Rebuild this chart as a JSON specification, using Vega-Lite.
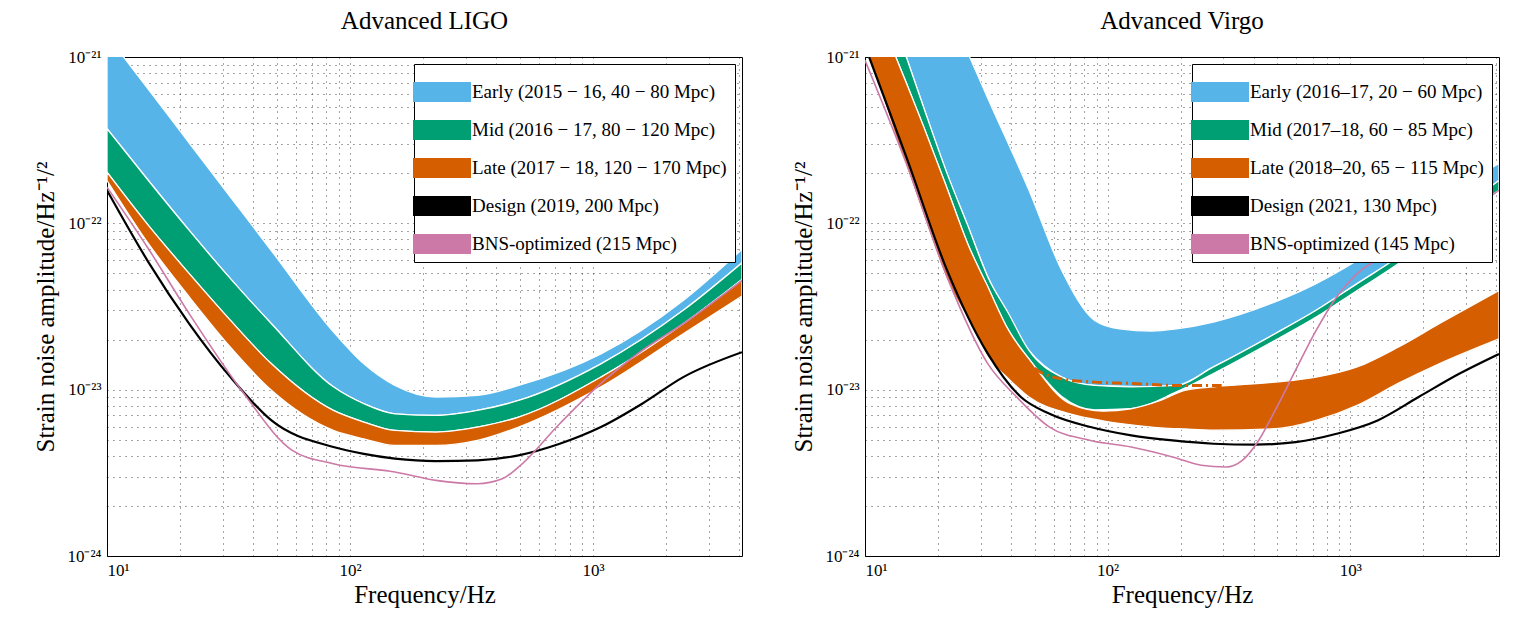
{
"$schema":"https://vega.github.io/schema/vega-lite/v6.json",
"padding":{"left":33,"top":8,"right":5,"bottom":5},
"background":"white",
"config":{"font":"Liberation Serif","view":{"stroke":"black","strokeWidth":1},
"axis":{"labelFont":"Liberation Serif","titleFont":"Liberation Serif","labelFontSize":17,"titleFontSize":25,"titleFontWeight":"normal","labelColor":"black","titleColor":"black","grid":true,"gridColor":"#000","gridDash":[1,5],"gridOpacity":0.7,"domain":false,"ticks":false,"labelPadding":6},
"title":{"font":"Liberation Serif","fontSize":25,"fontWeight":"normal","offset":14},
"legend":{"orient":"top-right","offset":7,"labelFont":"Liberation Serif","labelFontSize":19,"labelColor":"black","fillColor":"white","strokeColor":"black","padding":8,"rowPadding":8,"symbolType":"M-1.45,-0.5H1.45V0.5H-1.45Z","symbolSize":1600,"symbolStrokeWidth":0,"symbolOpacity":1,"labelOffset":10,"labelLimit":500}},
"datasets":{
"Lband":[
{"s":"Early (2015 − 16, 40 − 80 Mpc)","f":10,"hi":1.35e-21,"lo":3.71e-22},
{"s":"Early (2015 − 16, 40 − 80 Mpc)","f":14.8,"hi":6.39e-22,"lo":1.81e-22},
{"s":"Early (2015 − 16, 40 − 80 Mpc)","f":21.8,"hi":3.04e-22,"lo":9.07e-23},
{"s":"Early (2015 − 16, 40 − 80 Mpc)","f":32.2,"hi":1.44e-22,"lo":4.65e-23},
{"s":"Early (2015 − 16, 40 − 80 Mpc)","f":47.5,"hi":6.84e-23,"lo":2.49e-23},
{"s":"Early (2015 − 16, 40 − 80 Mpc)","f":85.4,"hi":2.23e-23,"lo":1.04e-23},
{"s":"Early (2015 − 16, 40 − 80 Mpc)","f":114,"hi":1.43e-23,"lo":8.23e-24},
{"s":"Early (2015 − 16, 40 − 80 Mpc)","f":153,"hi":1.06e-23,"lo":7.16e-24},
{"s":"Early (2015 − 16, 40 − 80 Mpc)","f":226,"hi":9.03e-24,"lo":7.0e-24},
{"s":"Early (2015 − 16, 40 − 80 Mpc)","f":334,"hi":9.24e-24,"lo":7.5e-24},
{"s":"Early (2015 − 16, 40 − 80 Mpc)","f":494,"hi":1.06e-23,"lo":8.61e-24},
{"s":"Early (2015 − 16, 40 − 80 Mpc)","f":1077,"hi":1.64e-23,"lo":1.43e-23},
{"s":"Early (2015 − 16, 40 − 80 Mpc)","f":2350,"hi":3.44e-23,"lo":3.0e-23},
{"s":"Early (2015 − 16, 40 − 80 Mpc)","f":4100,"hi":6.97e-23,"lo":5.79e-23},
{"s":"Mid (2016 − 17, 80 − 120 Mpc)","f":10,"hi":3.71e-22,"lo":2.03e-22},
{"s":"Mid (2016 − 17, 80 − 120 Mpc)","f":14.8,"hi":1.81e-22,"lo":9.72e-23},
{"s":"Mid (2016 − 17, 80 − 120 Mpc)","f":21.8,"hi":9.07e-23,"lo":4.98e-23},
{"s":"Mid (2016 − 17, 80 − 120 Mpc)","f":32.2,"hi":4.65e-23,"lo":2.61e-23},
{"s":"Mid (2016 − 17, 80 − 120 Mpc)","f":47.5,"hi":2.49e-23,"lo":1.43e-23},
{"s":"Mid (2016 − 17, 80 − 120 Mpc)","f":85.4,"hi":1.04e-23,"lo":7.5e-24},
{"s":"Mid (2016 − 17, 80 − 120 Mpc)","f":114,"hi":8.23e-24,"lo":6.39e-24},
{"s":"Mid (2016 − 17, 80 − 120 Mpc)","f":153,"hi":7.16e-24,"lo":5.69e-24},
{"s":"Mid (2016 − 17, 80 − 120 Mpc)","f":226,"hi":7.0e-24,"lo":5.56e-24},
{"s":"Mid (2016 − 17, 80 − 120 Mpc)","f":334,"hi":7.5e-24,"lo":5.96e-24},
{"s":"Mid (2016 − 17, 80 − 120 Mpc)","f":494,"hi":8.61e-24,"lo":6.84e-24},
{"s":"Mid (2016 − 17, 80 − 120 Mpc)","f":1077,"hi":1.43e-23,"lo":1.19e-23},
{"s":"Mid (2016 − 17, 80 − 120 Mpc)","f":2350,"hi":3.0e-23,"lo":2.49e-23},
{"s":"Mid (2016 − 17, 80 − 120 Mpc)","f":4100,"hi":5.79e-23,"lo":4.6e-23},
{"s":"Late (2017 − 18, 120 − 170 Mpc)","f":10,"hi":2.03e-22,"lo":1.81e-22},
{"s":"Late (2017 − 18, 120 − 170 Mpc)","f":14.8,"hi":9.72e-23,"lo":7.55e-23},
{"s":"Late (2017 − 18, 120 − 170 Mpc)","f":21.8,"hi":4.98e-23,"lo":3.61e-23},
{"s":"Late (2017 − 18, 120 − 170 Mpc)","f":32.2,"hi":2.61e-23,"lo":1.8e-23},
{"s":"Late (2017 − 18, 120 − 170 Mpc)","f":47.5,"hi":1.43e-23,"lo":9.91e-24},
{"s":"Late (2017 − 18, 120 − 170 Mpc)","f":85.4,"hi":7.5e-24,"lo":5.69e-24},
{"s":"Late (2017 − 18, 120 − 170 Mpc)","f":114,"hi":6.39e-24,"lo":5.06e-24},
{"s":"Late (2017 − 18, 120 − 170 Mpc)","f":153,"hi":5.69e-24,"lo":4.62e-24},
{"s":"Late (2017 − 18, 120 − 170 Mpc)","f":226,"hi":5.56e-24,"lo":4.62e-24},
{"s":"Late (2017 − 18, 120 − 170 Mpc)","f":334,"hi":5.96e-24,"lo":4.95e-24},
{"s":"Late (2017 − 18, 120 − 170 Mpc)","f":494,"hi":6.84e-24,"lo":5.96e-24},
{"s":"Late (2017 − 18, 120 − 170 Mpc)","f":1077,"hi":1.19e-23,"lo":1.04e-23},
{"s":"Late (2017 − 18, 120 − 170 Mpc)","f":2350,"hi":2.49e-23,"lo":2.17e-23},
{"s":"Late (2017 − 18, 120 − 170 Mpc)","f":4100,"hi":4.6e-23,"lo":3.66e-23}
],
"Lline":[
{"s":"Design (2019, 200 Mpc)","f":10,"v":1.58e-22},
{"s":"Design (2019, 200 Mpc)","f":14.8,"v":5.85e-23},
{"s":"Design (2019, 200 Mpc)","f":21.8,"v":2.49e-23},
{"s":"Design (2019, 200 Mpc)","f":32.2,"v":1.19e-23},
{"s":"Design (2019, 200 Mpc)","f":47.5,"v":6.53e-24},
{"s":"Design (2019, 200 Mpc)","f":85.4,"v":4.52e-24},
{"s":"Design (2019, 200 Mpc)","f":114,"v":4.11e-24},
{"s":"Design (2019, 200 Mpc)","f":153,"v":3.85e-24},
{"s":"Design (2019, 200 Mpc)","f":226,"v":3.72e-24},
{"s":"Design (2019, 200 Mpc)","f":334,"v":3.76e-24},
{"s":"Design (2019, 200 Mpc)","f":494,"v":4.03e-24},
{"s":"Design (2019, 200 Mpc)","f":729,"v":4.73e-24},
{"s":"Design (2019, 200 Mpc)","f":1077,"v":5.96e-24},
{"s":"Design (2019, 200 Mpc)","f":1592,"v":8.23e-24},
{"s":"Design (2019, 200 Mpc)","f":2350,"v":1.19e-23},
{"s":"Design (2019, 200 Mpc)","f":4100,"v":1.68e-23},
{"s":"BNS-optimized (215 Mpc)","f":10,"v":1.65e-22},
{"s":"BNS-optimized (215 Mpc)","f":14.8,"v":7.03e-23},
{"s":"BNS-optimized (215 Mpc)","f":21.8,"v":2.86e-23},
{"s":"BNS-optimized (215 Mpc)","f":36.2,"v":9.68e-24},
{"s":"BNS-optimized (215 Mpc)","f":57.8,"v":4.32e-24},
{"s":"BNS-optimized (215 Mpc)","f":85.4,"v":3.59e-24},
{"s":"BNS-optimized (215 Mpc)","f":153,"v":3.2e-24},
{"s":"BNS-optimized (215 Mpc)","f":226,"v":2.85e-24},
{"s":"BNS-optimized (215 Mpc)","f":334,"v":2.72e-24},
{"s":"BNS-optimized (215 Mpc)","f":423,"v":2.91e-24},
{"s":"BNS-optimized (215 Mpc)","f":494,"v":3.43e-24},
{"s":"BNS-optimized (215 Mpc)","f":729,"v":6.24e-24},
{"s":"BNS-optimized (215 Mpc)","f":1077,"v":1.09e-23},
{"s":"BNS-optimized (215 Mpc)","f":1592,"v":1.72e-23},
{"s":"BNS-optimized (215 Mpc)","f":2350,"v":2.49e-23},
{"s":"BNS-optimized (215 Mpc)","f":4100,"v":4.54e-23}
],
"Rband":[
{"s":"Early (2016–17, 20 − 60 Mpc)","f":14.8,"hi":7.21e-21,"lo":1e-21},
{"s":"Early (2016–17, 20 − 60 Mpc)","f":17.9,"hi":3.81e-21,"lo":4.46e-22},
{"s":"Early (2016–17, 20 − 60 Mpc)","f":21.8,"hi":2.02e-21,"lo":1.99e-22},
{"s":"Early (2016–17, 20 − 60 Mpc)","f":27.0,"hi":1e-21,"lo":9.07e-23},
{"s":"Early (2016–17, 20 − 60 Mpc)","f":32.1,"hi":5.64e-22,"lo":4.75e-23},
{"s":"Early (2016–17, 20 − 60 Mpc)","f":47.4,"hi":1.58e-22,"lo":1.72e-23},
{"s":"Early (2016–17, 20 − 60 Mpc)","f":64.7,"hi":5.21e-23,"lo":1.19e-23},
{"s":"Early (2016–17, 20 − 60 Mpc)","f":88.4,"hi":2.61e-23,"lo":1.06e-23},
{"s":"Early (2016–17, 20 − 60 Mpc)","f":112,"hi":2.32e-23,"lo":1.05e-23},
{"s":"Early (2016–17, 20 − 60 Mpc)","f":152,"hi":2.25e-23,"lo":1.04e-23},
{"s":"Early (2016–17, 20 − 60 Mpc)","f":192,"hi":2.32e-23,"lo":1.06e-23},
{"s":"Early (2016–17, 20 − 60 Mpc)","f":273,"hi":2.55e-23,"lo":1.37e-23},
{"s":"Early (2016–17, 20 − 60 Mpc)","f":490,"hi":3.37e-23,"lo":2.17e-23},
{"s":"Early (2016–17, 20 − 60 Mpc)","f":723,"hi":4.34e-23,"lo":3.0e-23},
{"s":"Early (2016–17, 20 − 60 Mpc)","f":1067,"hi":5.98e-23,"lo":4.34e-23},
{"s":"Early (2016–17, 20 − 60 Mpc)","f":1574,"hi":8.67e-23,"lo":6.27e-23},
{"s":"Early (2016–17, 20 − 60 Mpc)","f":2323,"hi":1.37e-22,"lo":9.72e-23},
{"s":"Early (2016–17, 20 − 60 Mpc)","f":4100,"hi":2.29e-22,"lo":1.81e-22},
{"s":"Mid (2017–18, 60 − 85 Mpc)","f":13.4,"hi":1.5e-21,"lo":1e-21},
{"s":"Mid (2017–18, 60 − 85 Mpc)","f":14.8,"hi":1e-21,"lo":7.01e-22},
{"s":"Mid (2017–18, 60 − 85 Mpc)","f":17.9,"hi":4.46e-22,"lo":3.46e-22},
{"s":"Mid (2017–18, 60 − 85 Mpc)","f":21.8,"hi":1.99e-22,"lo":1.62e-22},
{"s":"Mid (2017–18, 60 − 85 Mpc)","f":26.5,"hi":9.72e-23,"lo":7.55e-23},
{"s":"Mid (2017–18, 60 − 85 Mpc)","f":32.1,"hi":4.75e-23,"lo":4.14e-23},
{"s":"Mid (2017–18, 60 − 85 Mpc)","f":39.1,"hi":2.86e-23,"lo":2.27e-23},
{"s":"Mid (2017–18, 60 − 85 Mpc)","f":47.4,"hi":1.72e-23,"lo":1.53e-23},
{"s":"Mid (2017–18, 60 − 85 Mpc)","f":64.7,"hi":1.19e-23,"lo":9.1e-24},
{"s":"Mid (2017–18, 60 − 85 Mpc)","f":88.4,"hi":1.06e-23,"lo":7.57e-24},
{"s":"Mid (2017–18, 60 − 85 Mpc)","f":125,"hi":1.04e-23,"lo":7.68e-24},
{"s":"Mid (2017–18, 60 − 85 Mpc)","f":192,"hi":1.06e-23,"lo":9.69e-24},
{"s":"Mid (2017–18, 60 − 85 Mpc)","f":273,"hi":1.37e-23,"lo":1.25e-23},
{"s":"Mid (2017–18, 60 − 85 Mpc)","f":490,"hi":2.17e-23,"lo":1.98e-23},
{"s":"Mid (2017–18, 60 − 85 Mpc)","f":723,"hi":3.0e-23,"lo":2.73e-23},
{"s":"Mid (2017–18, 60 − 85 Mpc)","f":1067,"hi":4.34e-23,"lo":3.95e-23},
{"s":"Mid (2017–18, 60 − 85 Mpc)","f":1574,"hi":6.27e-23,"lo":5.71e-23},
{"s":"Mid (2017–18, 60 − 85 Mpc)","f":2323,"hi":9.72e-23,"lo":8.87e-23},
{"s":"Mid (2017–18, 60 − 85 Mpc)","f":4100,"hi":1.81e-22,"lo":1.58e-22},
{"s":"Late (2018–20, 65 − 115 Mpc)","f":10.4,"hi":2.52e-21,"lo":1e-21},
{"s":"Late (2018–20, 65 − 115 Mpc)","f":13.4,"hi":1e-21,"lo":3.33e-22},
{"s":"Late (2018–20, 65 − 115 Mpc)","f":17.9,"hi":3.46e-22,"lo":9.95e-23},
{"s":"Late (2018–20, 65 − 115 Mpc)","f":21.8,"hi":1.62e-22,"lo":4.54e-23},
{"s":"Late (2018–20, 65 − 115 Mpc)","f":26.5,"hi":7.55e-23,"lo":2.67e-23},
{"s":"Late (2018–20, 65 − 115 Mpc)","f":32.1,"hi":4.14e-23,"lo":1.57e-23},
{"s":"Late (2018–20, 65 − 115 Mpc)","f":39.1,"hi":2.27e-23,"lo":1.16e-23},
{"s":"Late (2018–20, 65 − 115 Mpc)","f":47.4,"hi":1.53e-23,"lo":9.03e-24},
{"s":"Late (2018–20, 65 − 115 Mpc)","f":70.0,"hi":8.23e-24,"lo":7.16e-24},
{"s":"Late (2018–20, 65 − 115 Mpc)","f":95.5,"hi":7.43e-24,"lo":6.5e-24},
{"s":"Late (2018–20, 65 − 115 Mpc)","f":125,"hi":7.68e-24,"lo":6.15e-24},
{"s":"Late (2018–20, 65 − 115 Mpc)","f":165,"hi":8.61e-24,"lo":5.9e-24},
{"s":"Late (2018–20, 65 − 115 Mpc)","f":208,"hi":9.91e-24,"lo":5.8e-24},
{"s":"Late (2018–20, 65 − 115 Mpc)","f":273,"hi":1.04e-23,"lo":5.71e-24},
{"s":"Late (2018–20, 65 − 115 Mpc)","f":490,"hi":1.11e-23,"lo":5.82e-24},
{"s":"Late (2018–20, 65 − 115 Mpc)","f":723,"hi":1.19e-23,"lo":6.53e-24},
{"s":"Late (2018–20, 65 − 115 Mpc)","f":1067,"hi":1.37e-23,"lo":8.04e-24},
{"s":"Late (2018–20, 65 − 115 Mpc)","f":1574,"hi":1.8e-23,"lo":1.09e-23},
{"s":"Late (2018–20, 65 − 115 Mpc)","f":2323,"hi":2.49e-23,"lo":1.43e-23},
{"s":"Late (2018–20, 65 − 115 Mpc)","f":4100,"hi":3.95e-23,"lo":2.02e-23}
],
"Rline":[
{"s":"Design (2021, 130 Mpc)","f":10.4,"v":1e-21},
{"s":"Design (2021, 130 Mpc)","f":14.8,"v":2.51e-22},
{"s":"Design (2021, 130 Mpc)","f":21.8,"v":5.21e-23},
{"s":"Design (2021, 130 Mpc)","f":32.1,"v":1.64e-23},
{"s":"Design (2021, 130 Mpc)","f":43.9,"v":9.03e-24},
{"s":"Design (2021, 130 Mpc)","f":57.6,"v":7.16e-24},
{"s":"Design (2021, 130 Mpc)","f":85.0,"v":5.96e-24},
{"s":"Design (2021, 130 Mpc)","f":125,"v":5.31e-24},
{"s":"Design (2021, 130 Mpc)","f":185,"v":4.95e-24},
{"s":"Design (2021, 130 Mpc)","f":273,"v":4.73e-24},
{"s":"Design (2021, 130 Mpc)","f":403,"v":4.67e-24},
{"s":"Design (2021, 130 Mpc)","f":595,"v":4.84e-24},
{"s":"Design (2021, 130 Mpc)","f":878,"v":5.43e-24},
{"s":"Design (2021, 130 Mpc)","f":1296,"v":6.53e-24},
{"s":"Design (2021, 130 Mpc)","f":1912,"v":9.03e-24},
{"s":"Design (2021, 130 Mpc)","f":2821,"v":1.25e-23},
{"s":"Design (2021, 130 Mpc)","f":4100,"v":1.64e-23},
{"s":"BNS-optimized (145 Mpc)","f":10,"v":9.55e-22},
{"s":"BNS-optimized (145 Mpc)","f":14.8,"v":2.29e-22},
{"s":"BNS-optimized (145 Mpc)","f":21.8,"v":4.75e-23},
{"s":"BNS-optimized (145 Mpc)","f":32.1,"v":1.43e-23},
{"s":"BNS-optimized (145 Mpc)","f":42.2,"v":9.03e-24},
{"s":"BNS-optimized (145 Mpc)","f":57.6,"v":5.96e-24},
{"s":"BNS-optimized (145 Mpc)","f":85.0,"v":4.95e-24},
{"s":"BNS-optimized (145 Mpc)","f":125,"v":4.52e-24},
{"s":"BNS-optimized (145 Mpc)","f":185,"v":3.94e-24},
{"s":"BNS-optimized (145 Mpc)","f":243,"v":3.51e-24},
{"s":"BNS-optimized (145 Mpc)","f":307,"v":3.43e-24},
{"s":"BNS-optimized (145 Mpc)","f":359,"v":3.76e-24},
{"s":"BNS-optimized (145 Mpc)","f":419,"v":4.95e-24},
{"s":"BNS-optimized (145 Mpc)","f":490,"v":7.5e-24},
{"s":"BNS-optimized (145 Mpc)","f":595,"v":1.31e-23},
{"s":"BNS-optimized (145 Mpc)","f":723,"v":2.27e-23},
{"s":"BNS-optimized (145 Mpc)","f":878,"v":3.61e-23},
{"s":"BNS-optimized (145 Mpc)","f":1067,"v":4.98e-23},
{"s":"BNS-optimized (145 Mpc)","f":1574,"v":6.88e-23},
{"s":"BNS-optimized (145 Mpc)","f":2323,"v":9.07e-23},
{"s":"BNS-optimized (145 Mpc)","f":4100,"v":1.58e-22}
],
"Rdash":[
{"f":30.9,"v":4.34e-23},{"f":36.1,"v":2.49e-23},{"f":42.2,"v":1.72e-23},{"f":51.3,"v":1.31e-23},{"f":64.7,"v":1.16e-23},{"f":88.4,"v":1.11e-23},{"f":125,"v":1.09e-23},{"f":192,"v":1.06e-23},{"f":295,"v":1.06e-23}
]
},
"spacing":48,
"hconcat":[
{
"title":"Advanced LIGO",
"width":635,"height":499,
"layer":[
{"data":{"name":"Lband"},"mark":{"type":"area","clip":true,"opacity":1,"stroke":"white","strokeWidth":1.3,"interpolate":"monotone"},
"encoding":{
"x":{"field":"f","type":"quantitative","scale":{"type":"log","domain":[10,4100],"nice":false},"axis":{"title":"Frequency/Hz","values":[10,20,30,40,50,60,70,80,90,100,200,300,400,500,600,700,800,900,1000,2000,3000,4000],"labelExpr":"datum.value==10?'10¹':datum.value==100?'10²':datum.value==1000?'10³':''"}},
"y":{"field":"hi","type":"quantitative","scale":{"type":"log","domain":[1e-24,1e-21],"nice":false},"axis":{"title":"Strain noise amplitude/Hz⁻¹/²","titlePadding":8,"values":[1e-24,2e-24,3e-24,4e-24,5e-24,6e-24,7e-24,8e-24,9e-24,1e-23,2e-23,3e-23,4e-23,5e-23,6e-23,7e-23,8e-23,9e-23,1e-22,2e-22,3e-22,4e-22,5e-22,6e-22,7e-22,8e-22,9e-22,1e-21],"labelExpr":"datum.value<1.5e-24?'10⁻²⁴':(datum.value>0.99e-23&&datum.value<1.01e-23)?'10⁻²³':(datum.value>0.99e-22&&datum.value<1.01e-22)?'10⁻²²':datum.value>0.99e-21?'10⁻²¹':''"}},
"y2":{"field":"lo"},
"fill":{"field":"s","type":"nominal","sort":null,"scale":{"domain":["Early (2015 − 16, 40 − 80 Mpc)","Mid (2016 − 17, 80 − 120 Mpc)","Late (2017 − 18, 120 − 170 Mpc)","Design (2019, 200 Mpc)","BNS-optimized (215 Mpc)"],"range":["#56B4E9","#009E73","#D55E00","#000000","#CC79A7"]},"legend":{"title":null}}
}},
{"data":{"name":"Lline"},"mark":{"type":"line","clip":true,"interpolate":"monotone"},
"encoding":{
"x":{"field":"f","type":"quantitative"},
"y":{"field":"v","type":"quantitative"},
"stroke":{"field":"s","type":"nominal","legend":null,"scale":{"domain":["Design (2019, 200 Mpc)","BNS-optimized (215 Mpc)"],"range":["#000000","#CC79A7"]}},
"strokeWidth":{"condition":{"test":"indexof(datum.s,'Design')==0","value":2.2},"value":1.6}
}}
]
},
{
"title":"Advanced Virgo",
"width":634,"height":499,
"layer":[
{"data":{"name":"Rband"},"mark":{"type":"area","clip":true,"opacity":1,"stroke":"white","strokeWidth":1.3,"interpolate":"monotone"},
"encoding":{
"x":{"field":"f","type":"quantitative","scale":{"type":"log","domain":[10,4100],"nice":false},"axis":{"title":"Frequency/Hz","values":[10,20,30,40,50,60,70,80,90,100,200,300,400,500,600,700,800,900,1000,2000,3000,4000],"labelExpr":"datum.value==10?'10¹':datum.value==100?'10²':datum.value==1000?'10³':''"}},
"y":{"field":"hi","type":"quantitative","scale":{"type":"log","domain":[1e-24,1e-21],"nice":false},"axis":{"title":"Strain noise amplitude/Hz⁻¹/²","titlePadding":8,"values":[1e-24,2e-24,3e-24,4e-24,5e-24,6e-24,7e-24,8e-24,9e-24,1e-23,2e-23,3e-23,4e-23,5e-23,6e-23,7e-23,8e-23,9e-23,1e-22,2e-22,3e-22,4e-22,5e-22,6e-22,7e-22,8e-22,9e-22,1e-21],"labelExpr":"datum.value<1.5e-24?'10⁻²⁴':(datum.value>0.99e-23&&datum.value<1.01e-23)?'10⁻²³':(datum.value>0.99e-22&&datum.value<1.01e-22)?'10⁻²²':datum.value>0.99e-21?'10⁻²¹':''"}},
"y2":{"field":"lo"},
"fill":{"field":"s","type":"nominal","sort":null,"scale":{"domain":["Early (2016–17, 20 − 60 Mpc)","Mid (2017–18, 60 − 85 Mpc)","Late (2018–20, 65 − 115 Mpc)","Design (2021, 130 Mpc)","BNS-optimized (145 Mpc)"],"range":["#56B4E9","#009E73","#D55E00","#000000","#CC79A7"]},"legend":{"title":null}}
}},
{"data":{"name":"Rdash"},"mark":{"type":"line","clip":true,"interpolate":"monotone","color":"#D55E00","strokeWidth":3,"strokeDash":[10,4,2,4]},
"encoding":{"x":{"field":"f","type":"quantitative"},"y":{"field":"v","type":"quantitative"}}},
{"data":{"name":"Rline"},"mark":{"type":"line","clip":true,"interpolate":"monotone"},
"encoding":{
"x":{"field":"f","type":"quantitative"},
"y":{"field":"v","type":"quantitative"},
"stroke":{"field":"s","type":"nominal","legend":null,"scale":{"domain":["Design (2021, 130 Mpc)","BNS-optimized (145 Mpc)"],"range":["#000000","#CC79A7"]}},
"strokeWidth":{"condition":{"test":"indexof(datum.s,'Design')==0","value":2.2},"value":1.6}
}}
]
}
],
"resolve":{"scale":{"fill":"independent","stroke":"independent"},"legend":{"fill":"independent"}}
}
